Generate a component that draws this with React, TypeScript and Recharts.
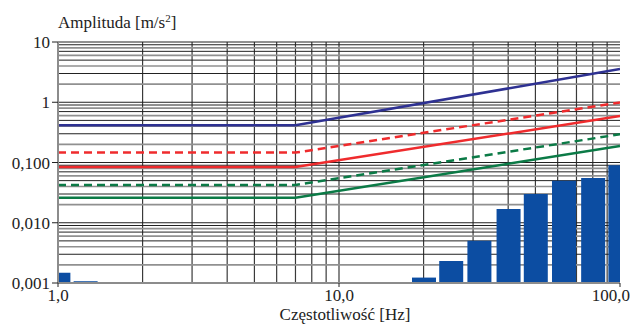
import React from 'react';
import { ComposedChart, Line, Bar, XAxis, YAxis, CartesianGrid } from 'recharts';

// Measured 1/3-octave band amplitudes [m/s^2]
const barFreqs = [1, 1.25, 20, 25, 31.5, 40, 50, 63, 80, 100];
const barValues = [0.00148, 0.00107, 0.00123, 0.00232, 0.00505, 0.0169, 0.03, 0.0499, 0.0553, 0.0898];

// Limit curves (break at 7 Hz)
const lineFreqs = [1, 7, 100];
const limitBlue = [0.414, 0.414, 3.56];
const limitRedDashed = [0.146, 0.146, 0.99];
const limitRed = [0.084, 0.084, 0.59];
const limitGreenDashed = [0.0424, 0.0424, 0.294];
const limitGreen = [0.026, 0.026, 0.188];

// Axis ticks
const xTicks = [1, 10, 100];
const xTickLabels = ['1,0', '10,0', '100,0'];
const yTicks = [0.001, 0.01, 0.1, 1, 10];
const yTickLabels = ['0,001', '0,010', '0,100', '1', '10'];

// Grid values
const xGridValues = [2, 3, 4, 5, 6, 7, 8, 9, 10, 20, 30, 40, 50, 60, 70, 80, 90];
const yGridDark = [
  0.003, 0.005, 0.007, 0.009, 0.01,
  0.03, 0.05, 0.07, 0.09, 0.1,
  0.3, 0.5, 0.7, 0.9, 1,
  3, 5, 7, 9, 10,
];
const yGridGray = [
  0.002, 0.004, 0.006, 0.008,
  0.02, 0.04, 0.06, 0.08,
  0.2, 0.4, 0.6, 0.8,
  2, 4, 6, 8,
];

const allFreqs = Array.from(new Set([...barFreqs, ...lineFreqs])).sort((a, b) => a - b);
const data = allFreqs.map((f) => {
  const bi = barFreqs.indexOf(f);
  const li = lineFreqs.indexOf(f);
  return {
    f,
    bar: bi >= 0 ? barValues[bi] : undefined,
    blue: li >= 0 ? limitBlue[li] : undefined,
    redDashed: li >= 0 ? limitRedDashed[li] : undefined,
    red: li >= 0 ? limitRed[li] : undefined,
    greenDashed: li >= 0 ? limitGreenDashed[li] : undefined,
    green: li >= 0 ? limitGreen[li] : undefined,
  };
});

const FONT = "'Liberation Serif', Tinos, 'Times New Roman', Times, serif";
const textStyle = { fontFamily: FONT, fontSize: 17 };

const XTick = (props: any) => {
  const { x, y, payload } = props;
  const idx = xTicks.indexOf(payload.value);
  const label = idx >= 0 ? xTickLabels[idx] : '';
  const isLast = idx === xTicks.length - 1;
  return (
    <text
      x={isLast ? x + 10 : x}
      y={y}
      dy="0.71em"
      textAnchor={isLast ? 'end' : 'middle'}
      style={textStyle}
      fill="#222"
    >
      {label}
    </text>
  );
};

const yFmt = (v: number) => {
  const idx = yTicks.findIndex((t) => Math.abs(t - v) / t < 1e-6);
  return idx >= 0 ? yTickLabels[idx] : '';
};

export default function App() {
  return (
    <div style={{ position: 'absolute', left: 0, top: 0, width: 630, height: 325, background: '#fff', fontFamily: FONT }}>
      <ComposedChart
        width={630}
        height={325}
        data={data}
        margin={{ top: 42, right: 10, bottom: 0, left: 0 }}
        style={{ fontFamily: FONT }}
      >
        <CartesianGrid
          horizontal={false}
          vertical={true}
          verticalValues={xGridValues}
          stroke="#3a3a3a"
          strokeWidth={1.2}
        />
        <CartesianGrid
          horizontal={true}
          vertical={false}
          horizontalValues={yGridGray}
          stroke="#909090"
          strokeWidth={1.6}
        />
        <CartesianGrid
          horizontal={true}
          vertical={false}
          horizontalValues={yGridDark}
          stroke="#222"
          strokeWidth={1}
        />
        <XAxis
          dataKey="f"
          type="number"
          scale="log"
          domain={[1, 100]}
          allowDataOverflow
          ticks={xTicks}
          interval={0}
          tick={<XTick />}
          tickSize={4}
          tickLine={{ stroke: '#222' }}
          axisLine={{ stroke: '#8c8c8c', strokeWidth: 2 }}
          height={42}
          label={{
            content: () => (
              <text x={345} y={320} textAnchor="middle" style={textStyle} fill="#222">
                Częstotliwość [Hz]
              </text>
            ),
          }}
        />
        <YAxis
          type="number"
          scale="log"
          domain={[0.001, 10]}
          allowDataOverflow
          ticks={yTicks}
          interval={0}
          tickFormatter={yFmt}
          tick={{ style: textStyle, fill: '#222' }}
          tickSize={6}
          tickLine={{ stroke: '#222' }}
          axisLine={{ stroke: '#8c8c8c', strokeWidth: 2 }}
          width={58}
          label={{
            content: () => (
              <text x={58} y={28} textAnchor="start" style={textStyle} fill="#222">
                Amplituda [m/s
                <tspan dy={-6} style={{ fontSize: 11 }}>2</tspan>
                <tspan dy={6}>]</tspan>
              </text>
            ),
          }}
        />
        <Bar dataKey="bar" fill="#0c4da2" barSize={24} isAnimationActive={false} />
        <Line dataKey="blue" stroke="#2e3192" strokeWidth={2.5} dot={false} connectNulls isAnimationActive={false} />
        <Line dataKey="redDashed" stroke="#ef2b2d" strokeWidth={2.5} strokeDasharray="8 5" dot={false} connectNulls isAnimationActive={false} />
        <Line dataKey="red" stroke="#ef2b2d" strokeWidth={2.5} dot={false} connectNulls isAnimationActive={false} />
        <Line dataKey="greenDashed" stroke="#0b7a46" strokeWidth={2.5} strokeDasharray="8 5" dot={false} connectNulls isAnimationActive={false} />
        <Line dataKey="green" stroke="#0b7a46" strokeWidth={2.5} dot={false} connectNulls isAnimationActive={false} />
      </ComposedChart>
    </div>
  );
}
